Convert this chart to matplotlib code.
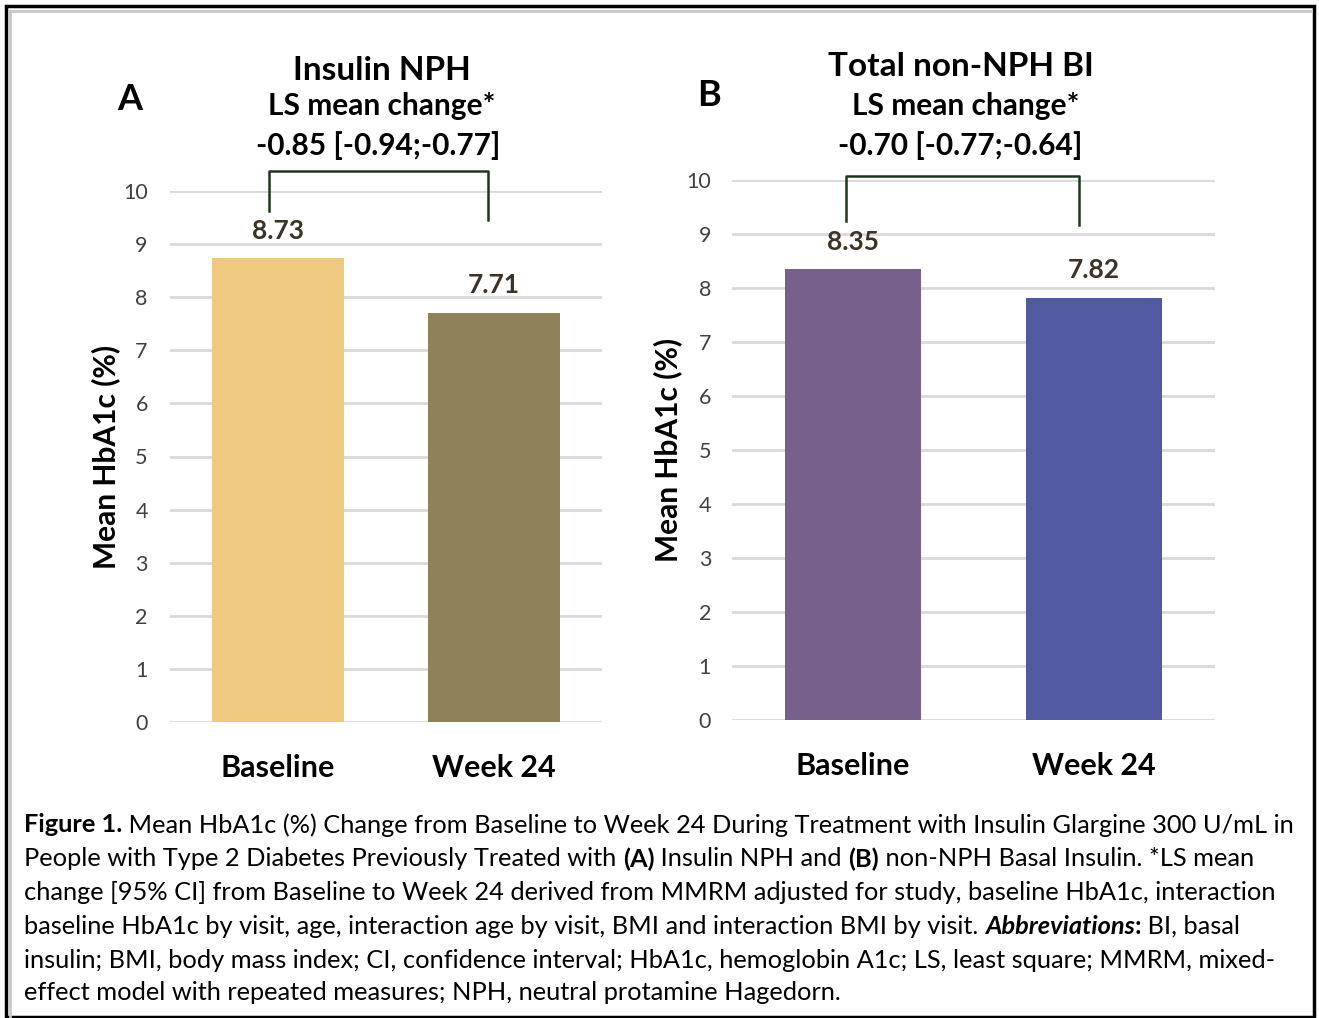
import matplotlib
matplotlib.use("Agg")
import matplotlib.pyplot as plt
from matplotlib.patches import Rectangle
from matplotlib.lines import Line2D

plt.rcParams['font.family'] = ['Lato', 'DejaVu Sans']

W, H = 1319, 1018

categories = ["Baseline", "Week 24"]
values_a = [8.73, 7.71]
values_b = [8.35, 7.82]
colors_a = ["#EFC97F", "#8F825A"]
colors_b = ["#77608A", "#515AA1"]
title_a = ["Insulin NPH", "LS mean change*", "-0.85 [-0.94;-0.77]"]
title_b = ["Total non-NPH BI", "LS mean change*", "-0.70 [-0.77;-0.64]"]
yticks = list(range(0, 11))
ylabel = "Mean HbA1c (%)"

fig = plt.figure(figsize=(W / 100, H / 100), dpi=100)


def fx(px):
    return px / W


def fy(py):
    return 1 - py / H


def make_panel(rect_px, values, colors, bar_width, bracket, ypad):
    l, t, r, b = rect_px
    ax = fig.add_axes([fx(l), fy(b), fx(r - l), (b - t) / H])
    x = list(range(len(categories)))
    ax.bar(x, values, width=bar_width, color=colors, zorder=3)
    ax.set_xlim(-0.5, len(categories) - 0.5)
    ax.set_ylim(0, 10)
    ax.set_yticks(yticks)
    ax.set_yticklabels([str(v) for v in yticks], fontsize=15.5, color="#404040")
    ax.set_xticks(x)
    ax.set_xticklabels(categories, fontsize=22, fontweight="bold", color="black")
    ax.tick_params(axis="x", length=0, pad=23)
    ax.tick_params(axis="y", length=0, pad=ypad)
    ax.grid(axis="y", color="#D9D9D9", linewidth=2, zorder=0)
    for s in ax.spines.values():
        s.set_visible(False)
    for xi, v in zip(x, values):
        ax.annotate(f"{v:.2f}", (xi, v), xytext=(0, 11), textcoords="offset points",
                    ha="center", va="bottom", fontsize=19, fontweight="bold", color="#3B3325")
    # bracket
    x0, x1, ytop, yl, yr = bracket
    ax.add_line(Line2D([x0, x0, x1, x1], [yl, ytop, ytop, yr], color="#1E361E",
                       linewidth=1.8, clip_on=False, zorder=4))
    return ax


axA = make_panel((170, 191, 602, 722), values_a, colors_a, 0.615,
                 (-0.042, 0.972, 10.38, 9.62, 9.45), 16)
axB = make_panel((732, 180, 1215, 720), values_b, colors_b, 0.563,
                 (-0.028, 0.937, 10.07, 9.24, 9.16), 15)

axA.set_ylabel(ylabel, fontsize=21.5, fontweight="bold")
axB.set_ylabel(ylabel, fontsize=21.5, fontweight="bold")
axA.yaxis.set_label_coords((120 - 170) / 432, 0.5)
axB.yaxis.set_label_coords((682 - 732) / 483, 0.5)

# titles
def ptext(px, py, s, size, **kw):
    fig.text(fx(px), fy(py), s, fontsize=size, fontweight="bold", ha="center",
             va="center", color="black", **kw)

ptext(382, 70, title_a[0], 24)
ptext(382, 106, title_a[1], 21.5)
ptext(378, 146, title_a[2], 21.5)
ptext(130, 100, "A", 26)

ptext(961, 66, title_b[0], 24)
ptext(966, 106, title_b[1], 21.5)
ptext(960, 146, title_b[2], 21.5)
ptext(709, 95, "B", 26)

# caption
caption_lines = [
    [("Figure 1.", "bold", "normal"),
     (" Mean HbA1c (%) Change from Baseline to Week 24 During Treatment with Insulin Glargine 300 U/mL in", "normal", "normal")],
    [("People with Type 2 Diabetes Previously Treated with ", "normal", "normal"), ("(A)", "bold", "normal"),
     (" Insulin NPH and ", "normal", "normal"), ("(B)", "bold", "normal"),
     (" non-NPH Basal Insulin. *LS mean", "normal", "normal")],
    [("change [95% CI] from Baseline to Week 24 derived from MMRM adjusted for study, baseline HbA1c, interaction", "normal", "normal")],
    [("baseline HbA1c by visit, age, interaction age by visit, BMI and interaction BMI by visit. ", "normal", "normal"),
     ("Abbreviations", "bold", "italic"), (":", "bold", "normal"), (" BI, basal", "normal", "normal")],
    [("insulin; BMI, body mass index; CI, confidence interval; HbA1c, hemoglobin A1c; LS, least square; MMRM, mixed-", "normal", "normal")],
    [("effect model with repeated measures; NPH, neutral protamine Hagedorn.", "normal", "normal")],
]
line_y = [825, 859, 892, 926, 960, 993]
renderer = fig.canvas.get_renderer()
cap_size = 18.3
for segs, py in zip(caption_lines, line_y):
    xpx = 24
    for s, wt, st in segs:
        t = fig.text(fx(xpx), fy(py), s, fontsize=cap_size, fontweight=wt, fontstyle=st,
                     ha="left", va="center", color="black")
        bb = t.get_window_extent(renderer=renderer)
        xpx += bb.width

# frame
fig.add_artist(Rectangle((fx(6), fy(1017)), fx(1308), (1011) / H, fill=False,
                         edgecolor="black", linewidth=2.5, transform=fig.transFigure))
fig.add_artist(Line2D([fx(10), fx(1311)], [fy(11), fy(11)], color="#C8C8C8", linewidth=2,
                      transform=fig.transFigure))
fig.add_artist(Line2D([fx(10), fx(10)], [fy(11), fy(1016)], color="#C8C8C8", linewidth=2,
                      transform=fig.transFigure))

fig.savefig("out.png", dpi=100, facecolor="white")
